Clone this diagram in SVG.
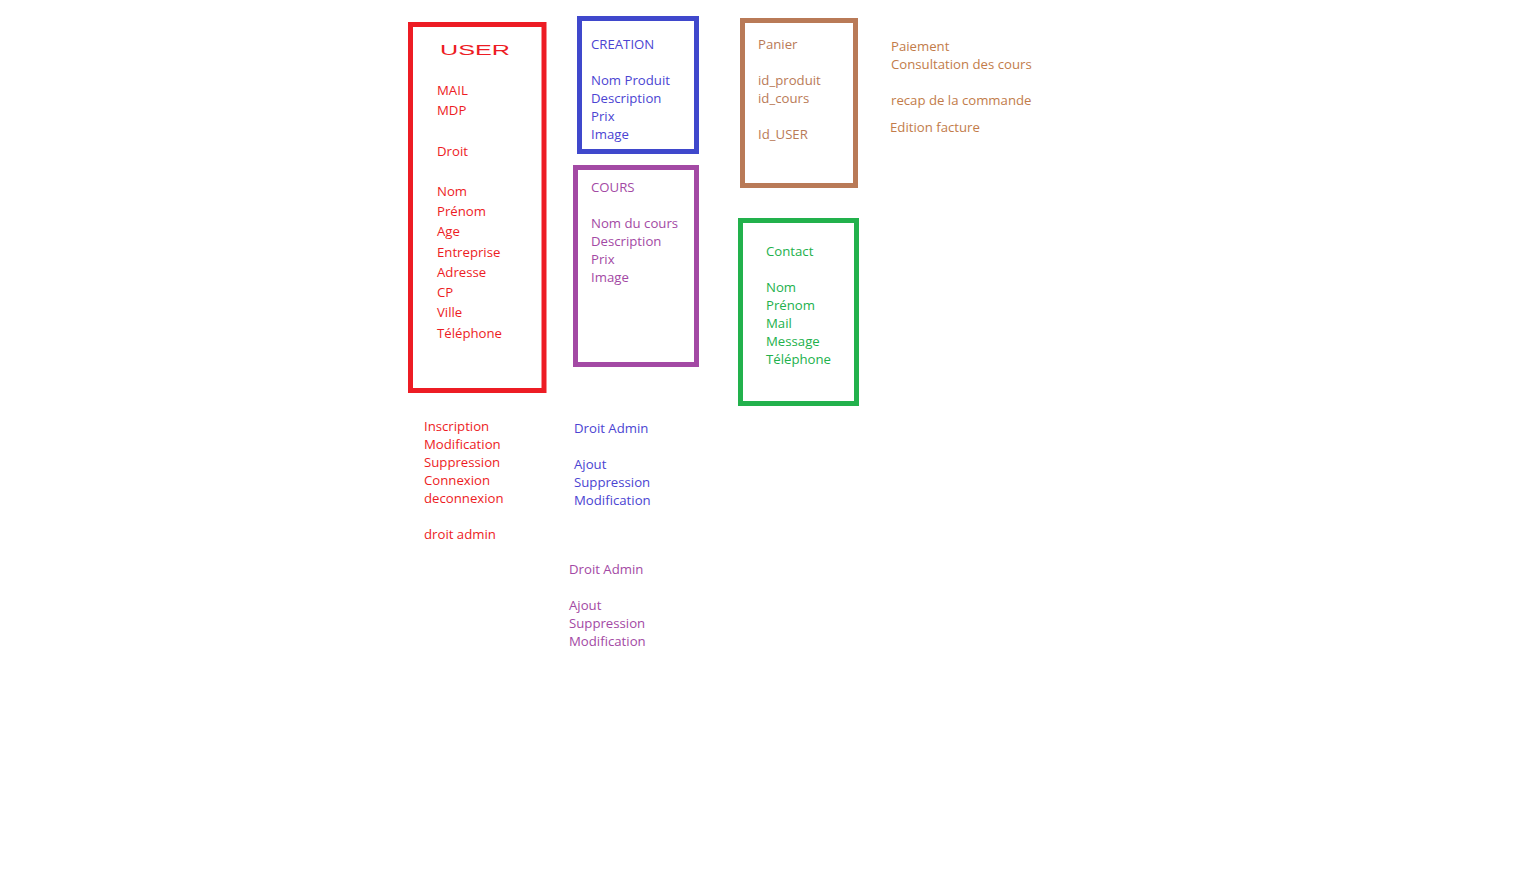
<svg xmlns="http://www.w3.org/2000/svg" width="1513" height="874" viewBox="0 0 1513 874">
  <style>
    text { font-family: "Open Sans", "Noto Sans", sans-serif; font-size: 13.2px; }
    .box { fill: #ffffff; stroke-width: 5; }
    .red { fill: #ED1C24; }
    .blue { fill: #4B44D2; }
    .purple { fill: #A349A4; }
    .brown { fill: #B97A57; }
    .orange { fill: #C27C4A; }
    .green { fill: #22B14C; }
  </style>
  <rect width="1513" height="874" fill="#ffffff"/>

  <!-- USER entity -->
  <g id="user">
    <rect class="box" x="410.5" y="24.5" width="133.5" height="366" stroke="#ED1C24"/>
    <text class="red" x="440" y="55" textLength="70" lengthAdjust="spacingAndGlyphs" style="font-family:'Liberation Sans',sans-serif;font-size:14px">USER</text>
    <text class="red" x="437" y="95">MAIL</text>
    <text class="red" x="437" y="115">MDP</text>
    <text class="red" x="437" y="156">Droit</text>
    <text class="red" x="437" y="196">Nom</text>
    <text class="red" x="437" y="216">Prénom</text>
    <text class="red" x="437" y="236">Age</text>
    <text class="red" x="437" y="257">Entreprise</text>
    <text class="red" x="437" y="277">Adresse</text>
    <text class="red" x="437" y="297">CP</text>
    <text class="red" x="437" y="317">Ville</text>
    <text class="red" x="437" y="338">Téléphone</text>
  </g>

  <!-- CREATION entity -->
  <g id="creation">
    <rect class="box" x="579.5" y="18.5" width="117" height="133" stroke="#3F48CC"/>
    <text class="blue" x="591" y="49">CREATION</text>
    <text class="blue" x="591" y="85">Nom Produit</text>
    <text class="blue" x="591" y="103">Description</text>
    <text class="blue" x="591" y="121">Prix</text>
    <text class="blue" x="591" y="139">Image</text>
  </g>

  <!-- COURS entity -->
  <g id="cours">
    <rect class="box" x="575.5" y="167.5" width="121" height="197" stroke="#A349A4"/>
    <text class="purple" x="591" y="192">COURS</text>
    <text class="purple" x="591" y="228">Nom du cours</text>
    <text class="purple" x="591" y="246">Description</text>
    <text class="purple" x="591" y="264">Prix</text>
    <text class="purple" x="591" y="282">Image</text>
  </g>

  <!-- Panier entity -->
  <g id="panier">
    <rect class="box" x="742.5" y="20.5" width="113" height="165" stroke="#B97A57"/>
    <text class="brown" x="758" y="49">Panier</text>
    <text class="brown" x="758" y="85">id_produit</text>
    <text class="brown" x="758" y="103">id_cours</text>
    <text class="brown" x="758" y="139">Id_USER</text>
  </g>

  <!-- Contact entity -->
  <g id="contact">
    <rect class="box" x="740.5" y="220.5" width="116" height="183" stroke="#22B14C"/>
    <text class="green" x="766" y="256">Contact</text>
    <text class="green" x="766" y="292">Nom</text>
    <text class="green" x="766" y="310">Prénom</text>
    <text class="green" x="766" y="328">Mail</text>
    <text class="green" x="766" y="346">Message</text>
    <text class="green" x="766" y="364">Téléphone</text>
  </g>

  <!-- Panier actions -->
  <g id="panier-actions">
    <text class="orange" x="891" y="51">Paiement</text>
    <text class="orange" x="891" y="69">Consultation des cours</text>
    <text class="orange" x="891" y="105">recap de la commande</text>
    <text class="orange" x="890" y="132">Edition facture</text>
  </g>

  <!-- USER actions -->
  <g id="user-actions">
    <text class="red" x="424" y="431">Inscription</text>
    <text class="red" x="424" y="449">Modification</text>
    <text class="red" x="424" y="467">Suppression</text>
    <text class="red" x="424" y="485">Connexion</text>
    <text class="red" x="424" y="503">deconnexion</text>
    <text class="red" x="424" y="539">droit admin</text>
  </g>

  <!-- CREATION actions -->
  <g id="creation-actions">
    <text class="blue" x="574" y="433">Droit Admin</text>
    <text class="blue" x="574" y="469">Ajout</text>
    <text class="blue" x="574" y="487">Suppression</text>
    <text class="blue" x="574" y="505">Modification</text>
  </g>

  <!-- COURS actions -->
  <g id="cours-actions">
    <text class="purple" x="569" y="574">Droit Admin</text>
    <text class="purple" x="569" y="610">Ajout</text>
    <text class="purple" x="569" y="628">Suppression</text>
    <text class="purple" x="569" y="646">Modification</text>
  </g>
</svg>
